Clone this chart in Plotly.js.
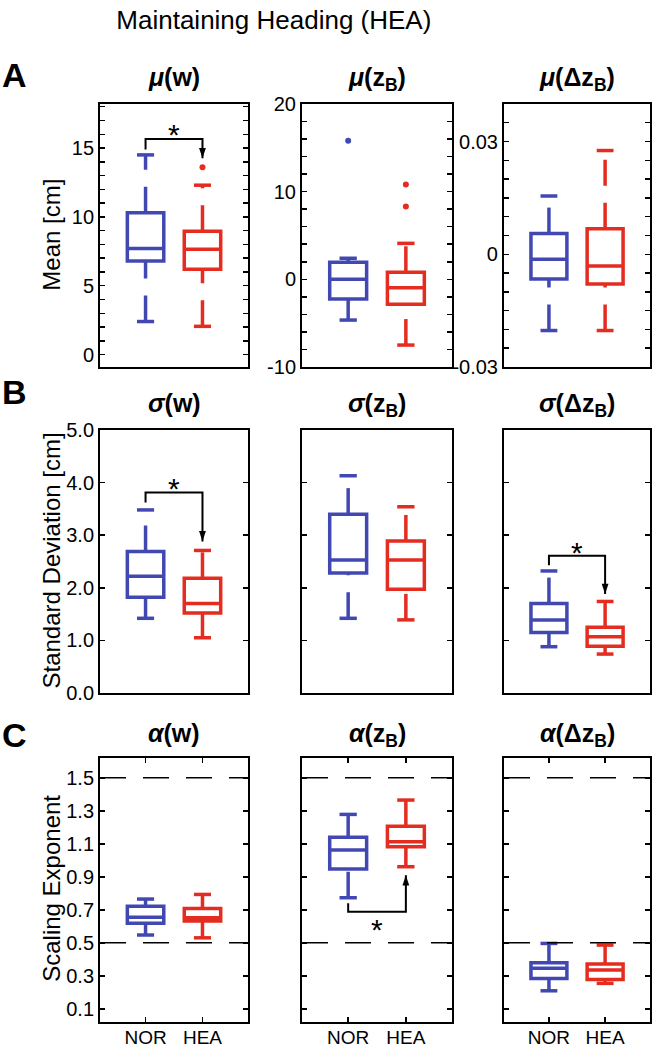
<!DOCTYPE html>
<html>
<head>
<meta charset="utf-8">
<script src="https://cdn.plot.ly/plotly-3.0.1.min.js"></script>
<style>html,body{margin:0;padding:0;background:#fff}</style>
</head>
<body>
<div id="chart" style="width:652px;height:1050px"></div>
<script>
// groups on the x axis
const groups = ['NOR', 'HEA'];
const groupX = [1, 2];

// box statistics, each array is [NOR, HEA]
// row A: means
const muW   = {lo: [2.4, 2.05],   q1: [6.8, 6.2],   med: [7.7, 7.65],  q3: [10.3, 8.95], hi: [14.5, 12.3], out: [[], [13.6]]};
const muZB  = {lo: [-4.65, -7.5], q1: [-2.25, -2.85], med: [0, -0.95], q3: [1.95, 0.8],  hi: [2.4, 4.1],   out: [[15.8], [10.8, 8.3]]};
const muDZB = {lo: [-0.0203, -0.0203], q1: [-0.0066, -0.0079], med: [-0.0013, -0.0031], q3: [0.0055, 0.0068], hi: [0.0155, 0.0276], out: [[], []]};
// row B: standard deviations
const sdW   = {lo: [1.42, 1.05], q1: [1.82, 1.52], med: [2.22, 1.70], q3: [2.69, 2.18], hi: [3.48, 2.71], out: [[], []]};
const sdZB  = {lo: [1.42, 1.39], q1: [2.28, 1.97], med: [2.53, 2.53], q3: [3.40, 2.89], hi: [4.13, 3.54], out: [[], []]};
const sdDZB = {lo: [0.88, 0.74], q1: [1.15, 0.89], med: [1.39, 1.07], q3: [1.70, 1.25], hi: [2.32, 1.74], out: [[], []]};
// row C: scaling exponents
const aW    = {lo: [0.547, 0.53],  q1: [0.618, 0.632], med: [0.654, 0.652], q3: [0.722, 0.708], hi: [0.765, 0.793], out: [[], []]};
const aZB   = {lo: [0.773, 0.961], q1: [0.947, 1.082], med: [1.062, 1.112], q3: [1.139, 1.207], hi: [1.278, 1.365], out: [[], []]};
const aDZB  = {lo: [0.209, 0.254], q1: [0.284, 0.278], med: [0.345, 0.335], q3: [0.379, 0.371], hi: [0.496, 0.486], out: [[], []]};

const panels = [muW, muZB, muDZB, sdW, sdZB, sdDZB, aW, aZB, aDZB];
const panelTitles = [
  '<b><i>μ</i>(w)</b>', '<b><i>μ</i>(z<sub>B</sub>)</b>', '<b><i>μ</i>(Δz<sub>B</sub>)</b>',
  '<b><i>σ</i>(w)</b>', '<b><i>σ</i>(z<sub>B</sub>)</b>', '<b><i>σ</i>(Δz<sub>B</sub>)</b>',
  '<b><i>α</i>(w)</b>', '<b><i>α</i>(z<sub>B</sub>)</b>', '<b><i>α</i>(Δz<sub>B</sub>)</b>'
];

// significance brackets: panel index, leg start, bar level, arrow tip, star level
const sigPanel = [0, 3, 5, 7];
const sigLeg   = [14.9, 3.62, 2.43, 0.739];
const sigBar   = [15.65, 3.81, 2.61, 0.688];
const sigTip   = [14.25, 2.88, 1.88, 0.91];
const sigStar  = [16.25, 3.97, 2.75, 0.607];

// reference lines for scaling exponent
const refLines = [0.5, 1.5];

const colors = ['#4248B2', '#E42D20'];
const font = 'Liberation Sans, Arial, Helvetica, sans-serif';
const dashPat = '26px,17px';
const boxWidth = 0.64, capHalf = 0.15;

const colX = [[0.1534, 0.3804], [0.4632, 0.6933], [0.7730, 0.9970]];
const rowY = [[0.6505, 0.9010], [0.3400, 0.5905], [0.0267, 0.2781]];

function axId(i) { return i === 0 ? '' : String(i + 1); }

// tick positions: every step, label only every nth
function tickSet(start, n, step, every, fmt) {
  const vals = [], text = [];
  for (let k = 0; k < n; k++) {
    const v = +(start + k * step).toFixed(6);
    vals.push(v);
    text.push(k % every === 0 ? fmt(v) : '');
  }
  return {vals, text};
}
const plain = v => String(v);
const oneDec = v => v.toFixed(1);

const yRanges = [[-0.9, 18.2], [-10, 20], [-0.03, 0.04], [0, 5], [0, 5], [0, 5], [0.02, 1.62], [0.02, 1.62], [0.02, 1.62]];
const yTicks = [
  tickSet(0, 19, 1, 5, plain), tickSet(-10, 16, 2, 5, plain), tickSet(-0.03, 15, 0.005, 6, plain),
  tickSet(0, 6, 1, 1, oneDec), tickSet(0, 6, 1, 1, oneDec), tickSet(0, 6, 1, 1, oneDec),
  tickSet(0.1, 8, 0.2, 1, oneDec), tickSet(0.1, 8, 0.2, 1, oneDec), tickSet(0.1, 8, 0.2, 1, oneDec)
];
const yShowLabels = [true, true, true, true, false, false, true, false, false];

const traces = [];
panels.forEach((p, i) => {
  const xa = 'x' + axId(i), ya = 'y' + axId(i);
  groups.forEach((g, k) => {
    const gx = groupX[k];
    traces.push({
      type: 'box', x: [gx], q1: [p.q1[k]], median: [p.med[k]], q3: [p.q3[k]],
      lowerfence: [p.q1[k]], upperfence: [p.q3[k]],
      width: boxWidth, whiskerwidth: 0, boxpoints: false,
      line: {color: colors[k], width: 3.5}, fillcolor: 'rgba(0,0,0,0)',
      xaxis: xa, yaxis: ya, showlegend: false, hoverinfo: 'skip'
    });
    // whiskers (dashed, drawn bottom to top)
    traces.push({
      type: 'scatter', mode: 'lines', x: [gx, gx, null, gx, gx],
      y: [p.q3[k], p.hi[k], null, p.lo[k], p.q1[k]],
      line: {color: colors[k], width: 3.5, dash: dashPat},
      xaxis: xa, yaxis: ya, showlegend: false, hoverinfo: 'skip'
    });
    // caps
    traces.push({
      type: 'scatter', mode: 'lines',
      x: [gx - capHalf, gx + capHalf, null, gx - capHalf, gx + capHalf],
      y: [p.hi[k], p.hi[k], null, p.lo[k], p.lo[k]],
      line: {color: colors[k], width: 3.5},
      xaxis: xa, yaxis: ya, showlegend: false, hoverinfo: 'skip'
    });
    if (p.out[k].length) {
      traces.push({
        type: 'scatter', mode: 'markers', x: p.out[k].map(() => gx), y: p.out[k],
        marker: {color: colors[k], size: 6},
        xaxis: xa, yaxis: ya, showlegend: false, hoverinfo: 'skip'
      });
    }
  });
});

const annotations = [];
sigPanel.forEach((pi, j) => {
  const xa = 'x' + axId(pi), ya = 'y' + axId(pi);
  const up = sigTip[j] > sigBar[j];
  traces.push({
    type: 'scatter', mode: 'lines', x: [groupX[0], groupX[0], groupX[1], groupX[1]],
    y: [sigLeg[j], sigBar[j], sigBar[j], sigTip[j]],
    line: {color: 'black', width: 2},
    xaxis: xa, yaxis: ya, showlegend: false, hoverinfo: 'skip'
  });
  traces.push({
    type: 'scatter', mode: 'markers', x: [groupX[1]], y: [sigTip[j]],
    marker: {symbol: 'arrow', size: 11, angle: up ? 0 : 180, color: 'black', line: {width: 0}},
    xaxis: xa, yaxis: ya, showlegend: false, hoverinfo: 'skip'
  });
  annotations.push({
    xref: xa, yref: ya, x: (groupX[0] + groupX[1]) / 2, y: sigStar[j], yshift: -4,
    text: '*', showarrow: false, yanchor: 'middle',
    font: {family: font, size: 30, color: 'black'}
  });
});

// subplot titles
const titleTops = [0.942, 0.631, 0.317];
panelTitles.forEach((t, i) => {
  const c = i % 3, r = Math.floor(i / 3);
  annotations.push({
    xref: 'paper', yref: 'paper', x: (colX[c][0] + colX[c][1]) / 2, y: titleTops[r],
    xanchor: 'center', yanchor: 'top', text: t, showarrow: false,
    font: {family: font, size: 25, color: 'black'}
  });
});

// panel letters
const letterY = [0.9286, 0.6267, 0.300];
['A', 'B', 'C'].forEach((L, r) => {
  annotations.push({
    xref: 'paper', yref: 'paper', x: 0.0, y: letterY[r], xanchor: 'left', yanchor: 'middle',
    text: '<b>' + L + '</b>', showarrow: false, font: {family: font, size: 34, color: 'black'}
  });
});

// y-axis titles
const yTitles = ['Mean [cm]', 'Standard Deviation [cm]', 'Scaling Exponent'];
const yTitleY = [0.776, 0.4657, 0.154];
yTitles.forEach((t, r) => {
  annotations.push({
    xref: 'paper', yref: 'paper', x: 0.079, y: yTitleY[r], xanchor: 'center', yanchor: 'middle',
    textangle: -90, text: t, showarrow: false, font: {family: font, size: 24, color: 'black'}
  });
});

const layout = {
  width: 652, height: 1050,
  margin: {l: 0, r: 0, t: 0, b: 0},
  paper_bgcolor: 'white', plot_bgcolor: 'white',
  font: {family: font, size: 20, color: 'black'},
  showlegend: false,
  title: {text: 'Maintaining Heading (HEA)', x: 0.42, xanchor: 'center', y: 0.981, yanchor: 'middle',
          font: {family: font, size: 26, color: 'black'}},
  annotations: annotations,
  shapes: []
};

panels.forEach((p, i) => {
  const c = i % 3, r = Math.floor(i / 3);
  const id = axId(i);
  const isC = r === 2;
  const xa = {
    domain: colX[c], range: [0.2, 2.8], anchor: 'y' + id,
    showline: true, mirror: isC ? 'ticks' : true, linewidth: 2, linecolor: 'black',
    showgrid: false, zeroline: false, fixedrange: true,
    ticks: isC ? 'inside' : '', ticklen: 5, tickwidth: 1.5, tickcolor: 'black',
    showticklabels: isC
  };
  if (isC) {
    Object.assign(xa, {tickmode: 'array', tickvals: groupX, ticktext: groups, ticklabelstandoff: -3,
      tickfont: {family: font, size: 19, color: 'black'}});
  }
  layout['xaxis' + id] = xa;
  layout['yaxis' + id] = {
    domain: rowY[r], range: yRanges[i], anchor: 'x' + id,
    showline: true, mirror: 'ticks', linewidth: 2, linecolor: 'black',
    showgrid: false, zeroline: false, fixedrange: true,
    ticks: 'inside', ticklen: 5, tickwidth: 1.5, tickcolor: 'black',
    tickmode: 'array', tickvals: yTicks[i].vals, ticktext: yTicks[i].text,
    showticklabels: yShowLabels[i],
    tickfont: {family: font, size: 20, color: 'black'}
  };
  if (isC) {
    refLines.forEach(v => {
      layout.shapes.push({
        type: 'line', xref: 'x' + id + ' domain', yref: 'y' + id, x0: 0, x1: 1, y0: v, y1: v,
        line: {color: 'black', width: 1.5, dash: dashPat}
      });
    });
  }
});

Plotly.newPlot('chart', traces, layout, {staticPlot: true, displayModeBar: false});
</script>
</body>
</html>
